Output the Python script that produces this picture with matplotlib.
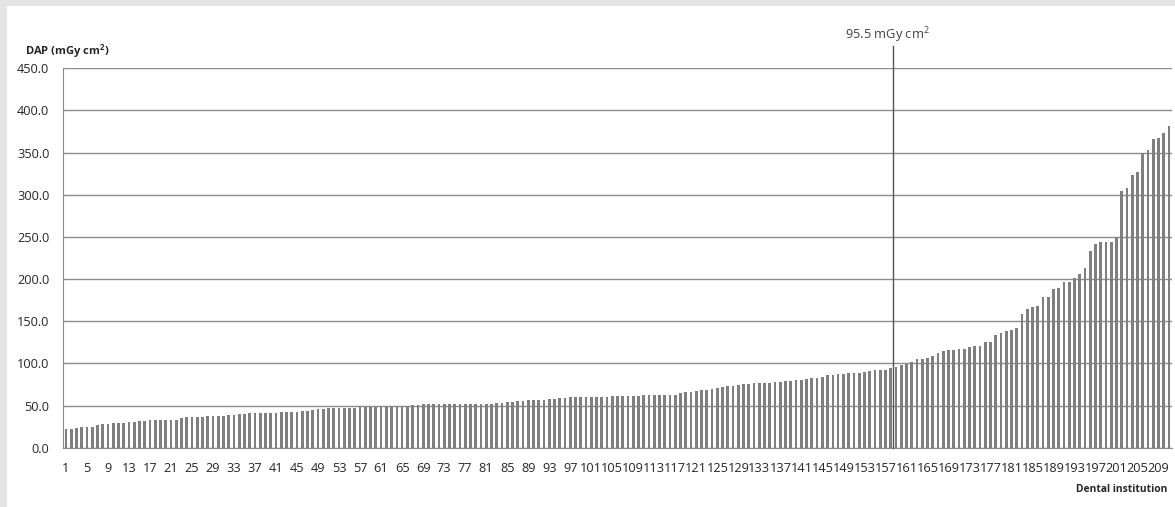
import matplotlib
matplotlib.use("Agg")
import matplotlib.pyplot as plt
from matplotlib.patches import Rectangle

# Data (sorted DAP per dental institution, mGy cm^2)
dap_1_36 = [21.8, 22.3, 23.7, 24.1, 24.5, 24.9, 27.3, 28.0, 28.0, 29.2, 29.6, 29.6,
            30.4, 30.8, 31.6, 32.0, 32.8, 33.2, 33.2, 33.2, 33.2, 33.2, 35.2, 35.9,
            36.7, 36.7, 36.7, 37.1, 37.5, 37.9, 37.9, 38.7, 39.1, 39.5, 40.3, 40.7]
dap_37_71 = [40.9, 40.9, 40.9, 41.7, 41.7, 42.5, 42.5, 42.5, 42.5, 43.3, 44.1, 44.9,
             45.7, 46.4, 46.8, 47.2, 47.2, 47.2, 47.2, 47.2, 48.0, 48.0, 48.0, 48.8,
             49.6, 50.0, 50.0, 50.0, 50.0, 50.0, 50.4, 51.2, 51.6, 51.6, 51.6]
dap_72_108 = [51.6, 51.6, 51.8, 52.0, 52.0, 52.0, 52.0, 52.0, 52.0, 52.4, 52.4, 52.8,
              53.6, 54.3, 54.7, 55.5, 55.9, 56.3, 56.5, 56.7, 57.1, 57.9, 58.3, 59.1,
              59.5, 59.9, 59.9, 59.9, 59.9, 59.9, 59.9, 60.3, 60.7, 61.1, 61.1, 61.1,
              61.3]
dap_109_145 = [61.5, 61.5, 62.0, 62.0, 62.0, 62.3, 62.6, 62.6, 62.6, 65.4, 66.2, 66.2,
               67.4, 68.2, 69.0, 69.8, 70.5, 71.7, 72.9, 73.7, 74.9, 75.7, 76.1, 76.5,
               76.9, 77.3, 77.3, 77.7, 78.4, 78.8, 79.6, 80.0, 80.8, 82.0, 82.8, 82.8,
               83.4]
dap_146_177 = [86.2, 86.2, 87.0, 87.0, 88.2, 88.5, 88.5, 89.7, 90.9, 91.7, 91.7, 92.5,
               94.9, 95.5, 98.4, 99.6, 101.6, 104.7, 104.7, 106.7, 108.7, 111.9, 114.6,
               115.8, 115.8, 116.6, 116.6, 119.0, 120.9, 120.9, 125.7, 125.7]
dap_178_211 = [133.8, 136.2, 138.5, 139.3, 142.1, 159.1, 164.7, 167.0, 168.6, 179.3,
               179.3, 188.8, 190.0, 196.0, 197.1, 200.7, 205.9, 213.0, 233.2, 241.9,
               244.3, 244.3, 244.3, 249.4, 304.5, 308.0, 323.9, 327.4, 349.2, 353.6,
               366.6, 367.8, 373.0, 381.3]

dap = dap_1_36 + dap_37_71 + dap_72_108 + dap_109_145 + dap_146_177 + dap_178_211
institutions = list(range(1, len(dap) + 1))
tick_labels = [str(i) for i in institutions[::4]]
y_ticks = [0, 50, 100, 150, 200, 250, 300, 350, 400, 450]
marker_position = 158.5          # 75th percentile rank (1-based)
marker_label = "95.5 mGy cm$^2$"

plt.rcParams['font.family'] = ['Open Sans', 'DejaVu Sans']
plt.rcParams['mathtext.fontset'] = 'custom'
plt.rcParams['mathtext.rm'] = 'Open Sans'
plt.rcParams['mathtext.bf'] = 'Open Sans:bold'

fig = plt.figure(figsize=(11.75, 5.07), dpi=100, facecolor='#e4e4e4')
fig.patches.append(Rectangle((7 / 1175, 0), 1 - 7 / 1175, 1 - 6 / 507,
                             transform=fig.transFigure, facecolor='white',
                             edgecolor='none', zorder=-10))

ax = fig.add_axes([63.3 / 1175, 1 - 447.7 / 507, 1108.4 / 1175, 379.4 / 507])
ax.set_facecolor('white')

x = list(range(len(dap)))
ax.bar(x, dap, width=0.52, color='#7f7f7f', zorder=3)

ax.set_xlim(-0.5, len(dap) - 0.5)
ax.set_ylim(0, 450)
ax.set_yticks(y_ticks)
ax.set_yticklabels([f"{v:.1f}" for v in y_ticks])
ax.set_xticks(x[::4])
ax.set_xticklabels(tick_labels)

ax.yaxis.grid(True, color='#8c8c8c', linewidth=1.0, zorder=1)
ax.set_axisbelow(True)
for s in ['top', 'right']:
    ax.spines[s].set_visible(False)
ax.spines['left'].set_color('#8c8c8c')
ax.spines['bottom'].set_color('#8c8c8c')
ax.tick_params(axis='both', length=0, labelsize=9.2, colors='#262626')
ax.tick_params(axis='y', pad=10)
ax.tick_params(axis='x', pad=10)

# Marker line at 75th percentile
mx = marker_position - 1
ax.plot([mx, mx], [0, 477], color='#555555', linewidth=1.0, clip_on=False, zorder=4)
ax.text(mx - 1.2, 489, marker_label, ha='center', va='center', fontsize=9.3,
        color='#404040')

fig.text(25 / 1175, 1 - 51 / 507, "DAP (mGy cm$^\\mathbf{2}$)", fontsize=8,
         fontweight='bold', ha='left', va='center', color='#262626')
fig.text(1167 / 1175, 1 - 490 / 507, "Dental institution", fontsize=7.4,
         fontweight='bold', ha='right', va='center', color='#262626')

fig.savefig("out.png", dpi=100, facecolor=fig.get_facecolor())
